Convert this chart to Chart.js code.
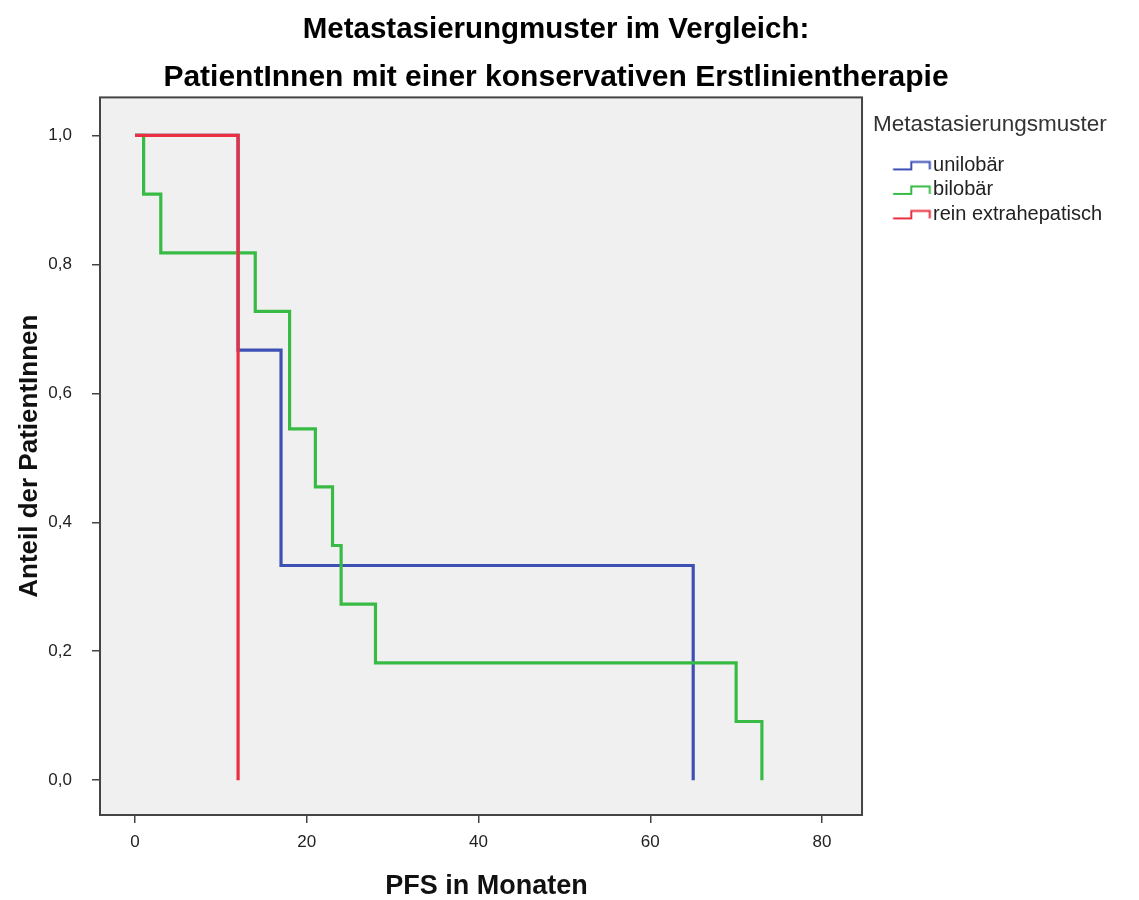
<!DOCTYPE html>
<html>
<head>
<meta charset="utf-8">
<script src="https://cdn.jsdelivr.net/npm/chart.js@4.4.1/dist/chart.umd.min.js"></script>
<style>
  body { margin: 0; background: #fff; }
  #wrap { width: 1139px; height: 900px; }
</style>
</head>
<body>
<div id="wrap"><canvas id="kmChart"></canvas></div>
<script>
// months where each curve steps down, and the fraction left after that step
var groupNames = ['unilobär', 'bilobär', 'rein extrahepatisch'];
var uniMonths = [0, 12, 17, 65];
var uniSurv = [1.0, 0.667, 0.333, 0.0];
var biMonths = [0, 1, 3, 14, 18, 21, 23, 24, 28, 70, 73];
var biSurv = [1.0, 0.909, 0.818, 0.727, 0.545, 0.455, 0.364, 0.273, 0.182, 0.091, 0.0];
var reinMonths = [0, 12];
var reinSurv = [1.0, 0.0];

var xTicks = [0, 20, 40, 60, 80];
var yTicks = [0, 0.2, 0.4, 0.6, 0.8, 1.0];
var yTickLabels = ['0,0', '0,2', '0,4', '0,6', '0,8', '1,0'];

// the x scale runs a bit past the frame so the legend sits off the panel
var frameXMax = 84.66;

var fontFam = "'Liberation Sans', Arial, sans-serif";

function toPoints(months, surv) {
    return months.map(function(m, i) {
        return { x: m, y: surv[i] };
    });
}

// little step shaped legend marker like SPSS uses
function stepIcon(color) {
    var c = document.createElement('canvas');
    c.width = 80;
    c.height = 14;
    var g = c.getContext('2d');
    g.strokeStyle = color;
    g.lineWidth = 2;
    g.beginPath();
    g.moveTo(32.75, 11);
    g.lineTo(51, 11);
    g.lineTo(51, 3.5);
    g.lineTo(69.5, 3.5);
    g.lineTo(69.5, 11);
    g.stroke();
    return c;
}

var colors = ['#3d51b5', '#38bb45', '#ea3040'];

function makeSet(i, months, surv, order) {
    return {
        label: groupNames[i],
        data: toPoints(months, surv),
        borderColor: colors[i],
        backgroundColor: colors[i],
        borderWidth: 3.2,
        stepped: 'before',
        pointRadius: 0,
        pointStyle: stepIcon(colors[i]),
        fill: false,
        order: order
    };
}

function frameBox(chart) {
    var a = chart.chartArea;
    var right = chart.scales.x.getPixelForValue(frameXMax);
    return { left: a.left, top: a.top, w: right - a.left, h: a.bottom - a.top };
}

// grey plot panel with a full frame
var panel = {
    id: 'panel',
    beforeDraw: function(chart) {
        var b = frameBox(chart), ctx = chart.ctx;
        ctx.save();
        ctx.fillStyle = '#f0f0f0';
        ctx.fillRect(b.left, b.top, b.w, b.h);
        ctx.restore();
    },
    afterDatasetsDraw: function(chart) {
        var b = frameBox(chart), ctx = chart.ctx;
        ctx.save();
        ctx.strokeStyle = '#444';
        ctx.lineWidth = 2;
        ctx.strokeRect(b.left, b.top, b.w, b.h);
        ctx.restore();
    }
};

var ctx = document.getElementById('kmChart').getContext('2d');
var chart = new Chart(ctx, {
    type: 'line',
    data: {
        datasets: [
            makeSet(0, uniMonths, uniSurv, 3),
            makeSet(1, biMonths, biSurv, 2),
            makeSet(2, reinMonths, reinSurv, 1)
        ]
    },
    options: {
        responsive: true,
        maintainAspectRatio: false,
        animation: false,
        layout: { padding: { left: 0, right: 27, top: 0, bottom: 0 } },
        plugins: {
            tooltip: { enabled: false },
            title: {
                display: true,
                text: 'Metastasierungmuster im Vergleich:',
                color: '#000',
                font: { family: fontFam, size: 29.5, weight: 'bold' },
                padding: { top: 12, bottom: 6 }
            },
            subtitle: {
                display: true,
                text: 'PatientInnen mit einer konservativen Erstlinientherapie',
                color: '#000',
                font: { family: fontFam, size: 30, weight: 'bold' },
                padding: { top: 6, bottom: 2 }
            },
            legend: {
                position: 'right',
                align: 'start',
                fullSize: false,
                title: {
                    display: true,
                    text: 'Metastasierungsmuster',
                    position: 'start',
                    color: '#333',
                    font: { family: fontFam, size: 22.5 },
                    padding: { top: 15.75, bottom: 10.75 }
                },
                labels: {
                    usePointStyle: true,
                    pointStyleWidth: 45.5,
                    padding: 4.5,
                    color: '#222',
                    font: { family: fontFam, size: 20 },
                    sort: function(a, b) { return a.datasetIndex - b.datasetIndex; }
                }
            }
        },
        scales: {
            x: {
                type: 'linear',
                min: -4.08,
                max: 85.94,
                afterBuildTicks: function(s) {
                    s.ticks = xTicks.map(function(v) { return { value: v }; });
                },
                afterFit: function(s) { s.height = 85; },
                grid: { display: true, drawOnChartArea: false, drawTicks: true, tickLength: 8, color: '#444', lineWidth: 1.5 },
                border: { display: false },
                ticks: {
                    color: '#222',
                    padding: 9,
                    maxRotation: 0,
                    font: { family: fontFam, size: 17 }
                },
                title: {
                    display: true,
                    text: 'PFS in Monaten',
                    color: '#111',
                    font: { family: fontFam, size: 27, weight: 'bold', lineHeight: 1 },
                    padding: { top: 0, bottom: 0 }
                }
            },
            y: {
                type: 'linear',
                min: -0.054,
                max: 1.059,
                afterBuildTicks: function(s) {
                    s.ticks = yTicks.map(function(v) { return { value: v }; });
                },
                afterFit: function(s) { s.width = 100; },
                grid: { display: true, drawOnChartArea: false, drawTicks: true, tickLength: 8, color: '#444', lineWidth: 1.5 },
                border: { display: false },
                ticks: {
                    color: '#222',
                    padding: 20,
                    font: { family: fontFam, size: 17 },
                    callback: function(v) {
                        var i = yTicks.indexOf(v);
                        return i >= 0 ? yTickLabels[i] : '';
                    }
                },
                title: {
                    display: true,
                    text: 'Anteil der PatientInnen',
                    color: '#111',
                    font: { family: fontFam, size: 26, weight: 'bold' },
                    padding: { top: 14, bottom: 0 }
                }
            }
        }
    },
    plugins: [panel]
});
</script>
</body>
</html>
